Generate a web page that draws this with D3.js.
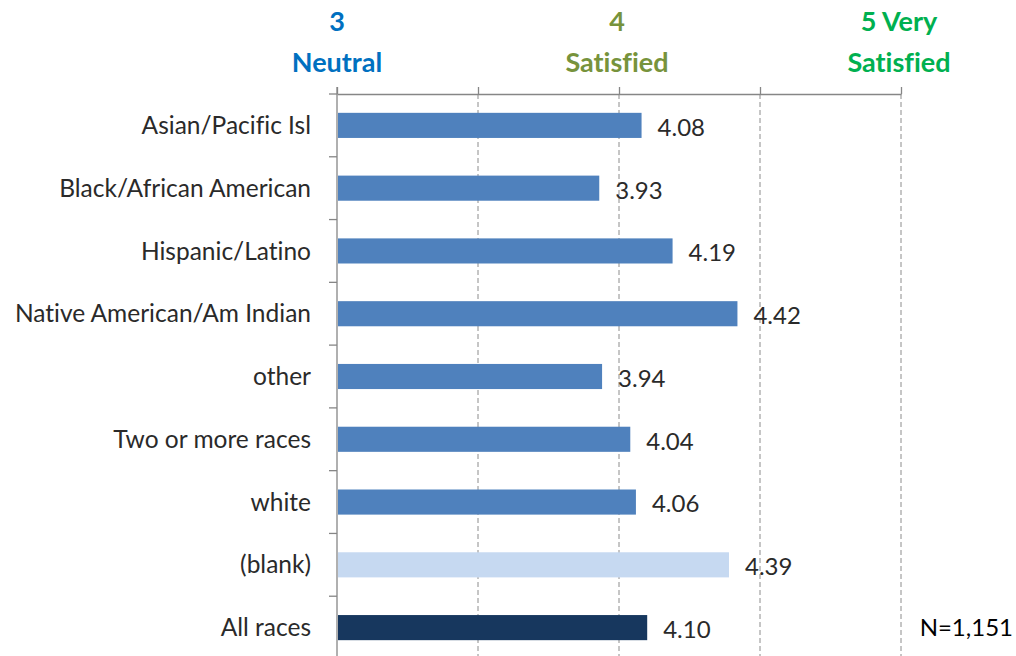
<!DOCTYPE html>
<html>
<head>
<meta charset="utf-8">
<script src="https://cdn.jsdelivr.net/npm/d3@7"></script>
<style>
  html, body { margin: 0; padding: 0; background: #fff; }
  svg { display: block; }
  text { font-family: Lato, "Open Sans", sans-serif; font-variant-ligatures: none; }
</style>
</head>
<body>
<svg id="chart" width="1016" height="656"></svg>
<script>
// Mean satisfaction by race/ethnicity
const categories = [
  "Asian/Pacific Isl",
  "Black/African American",
  "Hispanic/Latino",
  "Native American/Am Indian",
  "other",
  "Two or more races",
  "white",
  "(blank)",
  "All races"
];
const values = [4.08, 3.93, 4.19, 4.42, 3.94, 4.04, 4.06, 4.39, 4.10];
const valueLabels = ["4.08", "3.93", "4.19", "4.42", "3.94", "4.04", "4.06", "4.39", "4.10"];
const gridTicks = [3, 3.5, 4, 4.5, 5];
const scaleHeaders = [
  { value: 3, lines: ["3", "Neutral"], color: "#0070C0" },
  { value: 4, lines: ["4", "Satisfied"], color: "#77933C" },
  { value: 5, lines: ["5 Very", "Satisfied"], color: "#00B050" }
];
const sampleNote = "N=1,151";

const barColor = d => d === "(blank)" ? "#C6D9F1" : d === "All races" ? "#17375E" : "#4F81BD";

const svg = d3.select("#chart");
const plotLeft = 337, plotRight = 901, plotTop = 94, plotBottom = 659;

const x = d3.scaleLinear().domain([3, 5]).range([plotLeft, plotRight]);
const y = d3.scaleBand().domain(categories).range([plotTop, plotBottom])
  .paddingInner(0.6).paddingOuter(0.3);

const axisColor = "#868686";

// dashed vertical gridlines
svg.append("g").selectAll("line")
  .data(gridTicks.filter(t => t > 3))
  .join("line")
  .attr("x1", d => x(d)).attr("x2", d => x(d))
  .attr("y1", plotTop).attr("y2", plotBottom)
  .attr("stroke", "#8c8c8c")
  .attr("stroke-width", 1)
  .attr("stroke-dasharray", "5,3");

// top axis with upward ticks
const topAxis = d3.axisTop(x).tickValues(gridTicks).tickSize(7).tickSizeOuter(0).tickFormat("");
const gTop = svg.append("g").attr("transform", `translate(0,${plotTop})`).call(topAxis);
gTop.selectAll("path, line").attr("stroke", axisColor).attr("stroke-width", 1.3);

// left axis line and category separator ticks
const step = y.step();
const boundaries = d3.range(categories.length + 1).map(i => plotTop + i * step);
svg.append("line")
  .attr("x1", plotLeft).attr("x2", plotLeft)
  .attr("y1", plotTop - 7).attr("y2", plotBottom)
  .attr("stroke", axisColor).attr("stroke-width", 1.3);
svg.append("g").selectAll("line")
  .data(boundaries)
  .join("line")
  .attr("x1", plotLeft - 8).attr("x2", plotLeft)
  .attr("y1", d => d).attr("y2", d => d)
  .attr("stroke", axisColor).attr("stroke-width", 1.3);

// bars
svg.append("g").selectAll("rect")
  .data(categories)
  .join("rect")
  .attr("x", x(3) + 1)
  .attr("y", d => y(d))
  .attr("width", (d, i) => x(values[i]) - x(3) - 1)
  .attr("height", y.bandwidth())
  .attr("fill", d => barColor(d));

// category labels
svg.append("g").selectAll("text")
  .data(categories)
  .join("text")
  .attr("x", plotLeft - 26)
  .attr("y", d => y(d) + y.bandwidth() / 2)
  .attr("dy", "0.35em")
  .attr("text-anchor", "end")
  .attr("font-size", 24.5)
  .attr("fill", "#2a2a2a")
  .text(d => d);

// value labels
svg.append("g").selectAll("text")
  .data(categories)
  .join("text")
  .attr("x", (d, i) => x(values[i]) + 16)
  .attr("y", d => y(d) + y.bandwidth() / 2 + 2)
  .attr("dy", "0.35em")
  .attr("font-size", 24)
  .attr("fill", "#2a2a2a")
  .text((d, i) => valueLabels[i]);

// scale headers above the axis
const hdr = svg.append("g").selectAll("text")
  .data(scaleHeaders)
  .join("text")
  .attr("text-anchor", "middle")
  .attr("font-size", 27)
  .attr("font-weight", "bold")
  .attr("fill", d => d.color);
hdr.selectAll("tspan")
  .data(d => d.lines.map(l => ({ l, v: d.value })))
  .join("tspan")
  .attr("x", d => x(d.v) + (d.v === 3 ? 0 : -2))
  .attr("y", (d, i) => i === 0 ? 31 : 72)
  .text(d => d.l);

// sample size note
svg.append("text")
  .attr("x", 1013)
  .attr("y", y("All races") + y.bandwidth() / 2)
  .attr("dy", "0.35em")
  .attr("text-anchor", "end")
  .attr("font-size", 24)
  .attr("fill", "#000")
  .text(sampleNote);
</script>
</body>
</html>
